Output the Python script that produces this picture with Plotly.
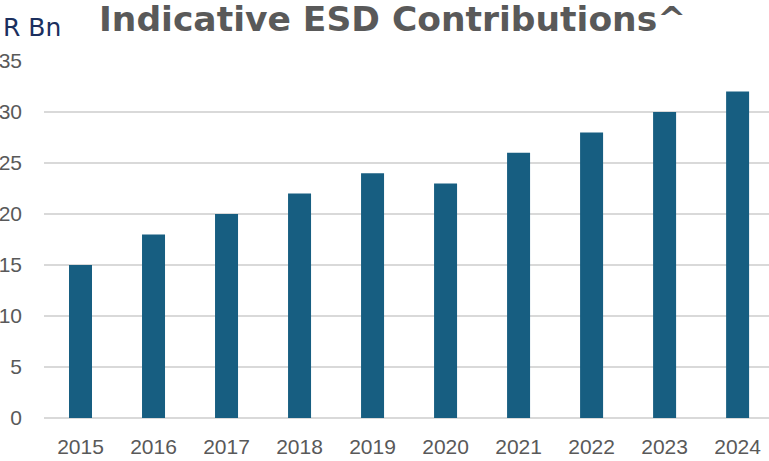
import plotly.graph_objects as go

# Annual contributions, R billions
years = ["2015", "2016", "2017", "2018", "2019", "2020", "2021", "2022", "2023", "2024"]
contributions = [15, 18, 20, 22, 24, 23, 26, 28, 30, 32]
y_ticks = [0, 5, 10, 15, 20, 25, 30, 35]

BAR_COLOR = "#175E81"
GRID_COLOR = "#D9D9D9"
TEXT_GREY = "#595959"

fig = go.Figure(
    go.Bar(
        x=years,
        y=contributions,
        marker=dict(color=BAR_COLOR, line=dict(width=0)),
        hoverinfo="x+y",
    )
)

fig.update_layout(
    width=769,
    height=461,
    margin=dict(l=44, r=0, t=61, b=43),
    paper_bgcolor="white",
    plot_bgcolor="white",
    bargap=0.685,
    showlegend=False,
    font=dict(family="Liberation Sans, Arial, sans-serif", color=TEXT_GREY, size=21),
    xaxis=dict(
        type="category",
        range=[-0.5, 9.43],
        showgrid=False,
        showline=False,
        ticks="",
        ticklabelstandoff=14,
        tickfont=dict(size=21, color=TEXT_GREY),
    ),
    yaxis=dict(
        range=[0, 35],
        tickvals=y_ticks,
        showgrid=True,
        gridcolor=GRID_COLOR,
        gridwidth=2,
        zeroline=True,
        zerolinecolor=GRID_COLOR,
        zerolinewidth=2,
        showline=False,
        ticks="",
        ticklabelstandoff=21,
        tickfont=dict(size=21, color=TEXT_GREY),
    ),
    annotations=[
        dict(
            text="<b>Indicative ESD Contributions^</b>",
            xref="paper", yref="paper",
            x=(97 - 44) / 725, y=1,
            xanchor="left", yanchor="bottom",
            yshift=20,
            showarrow=False,
            font=dict(family="DejaVu Sans, sans-serif", size=34.5, color=TEXT_GREY),
        ),
        dict(
            text="R Bn",
            xref="paper", yref="paper",
            x=-44 / 725 + 1 / 725, y=1,
            xanchor="left", yanchor="bottom",
            yshift=17,
            showarrow=False,
            font=dict(family="DejaVu Sans, sans-serif", size=25, color="#1B2F5E"),
        ),
    ],
)

fig.write_html("out.html")
